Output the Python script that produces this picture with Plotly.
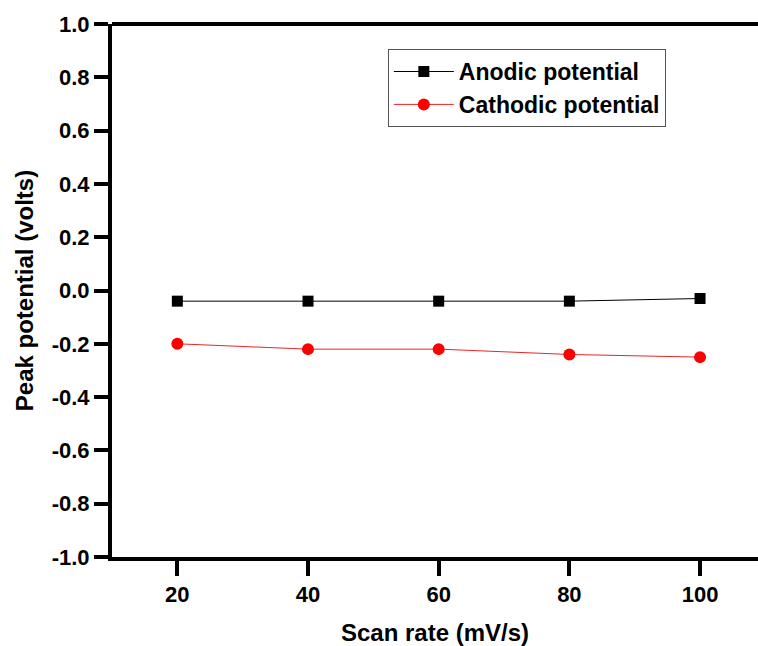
import plotly.graph_objects as go

scan_rate = [20, 40, 60, 80, 100]
anodic = [-0.04, -0.04, -0.04, -0.04, -0.03]
cathodic = [-0.20, -0.22, -0.22, -0.24, -0.25]
y_ticks = [-1.0, -0.8, -0.6, -0.4, -0.2, 0.0, 0.2, 0.4, 0.6, 0.8, 1.0]

FONT = "Arial, 'Liberation Sans', sans-serif"

fig = go.Figure()
fig.add_trace(go.Scatter(
    x=scan_rate, y=anodic, mode="lines+markers", name="<b>Anodic potential</b>",
    line=dict(color="black", width=1),
    marker=dict(symbol="square", size=11, color="black"),
))
fig.add_trace(go.Scatter(
    x=scan_rate, y=cathodic, mode="lines+markers", name="<b>Cathodic potential</b>",
    line=dict(color="#e8262a", width=1),
    marker=dict(symbol="circle", size=12, color="#ff0000"),
))

fig.update_layout(
    width=758, height=646,
    margin=dict(l=112, r=0, t=24, b=89),
    plot_bgcolor="white", paper_bgcolor="white",
    font=dict(family=FONT, size=22, color="black"),
    showlegend=True,
    legend=dict(
        x=0.427, y=0.953, xanchor="left", yanchor="top",
        bordercolor="#555555", borderwidth=1, bgcolor="white",
        font=dict(family=FONT, size=23, color="black"),
        tracegroupgap=0, itemwidth=60,
    ),
    xaxis=dict(
        range=[10, 108.87], tickvals=scan_rate,
        ticktext=["<b>%d</b>" % v for v in scan_rate],
        showgrid=False, zeroline=False,
        showline=True, linecolor="black", linewidth=4, mirror=False,
        ticks="outside", ticklen=15, tickwidth=4, tickcolor="black",
        tickfont=dict(family=FONT, size=22, color="black"),
        title=dict(text="<b>Scan rate (mV/s)</b>", standoff=20,
                   font=dict(family=FONT, size=24, color="black")),
    ),
    yaxis=dict(
        range=[-1.0, 1.0],
        tickvals=y_ticks,
        ticktext=["<b>%.1f</b>" % v for v in y_ticks],
        showgrid=False, zeroline=False,
        showline=True, linecolor="black", linewidth=4, mirror=False,
        ticks="outside", ticklen=14, tickwidth=4, tickcolor="black",
        tickfont=dict(family=FONT, size=22, color="black"),
        title=dict(text="<b>Peak potential (volts)</b>", standoff=12,
                   font=dict(family=FONT, size=24, color="black")),
    ),
)
# top border line (right side is cut off in the reference)
fig.add_shape(type="line", xref="paper", yref="paper", x0=0, x1=1, y0=1, y1=1,
              line=dict(color="black", width=4))

fig.write_html("out.html")
